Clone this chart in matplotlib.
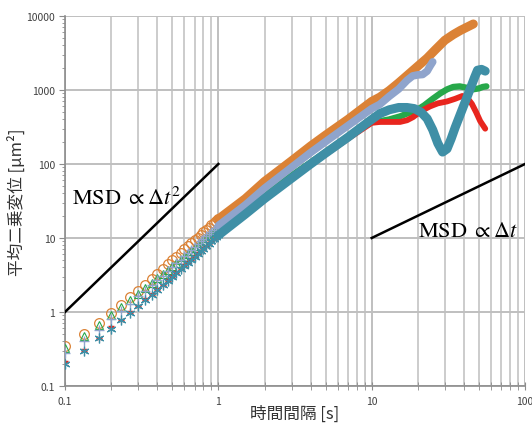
import matplotlib
matplotlib.use("Agg")
import matplotlib.pyplot as plt
from matplotlib.ticker import FixedLocator, NullFormatter

plt.rcParams['font.family'] = ['Noto Sans CJK JP', 'DejaVu Sans']
plt.rcParams['mathtext.fontset'] = 'stix'

# time lags for the separated markers (1/30 s steps)
t_low = [0.1, 0.133, 0.167, 0.2, 0.233, 0.267, 0.3, 0.333, 0.367, 0.4,
         0.433, 0.467, 0.5, 0.533, 0.567, 0.6, 0.633, 0.667, 0.7, 0.733,
         0.767, 0.8, 0.833, 0.867, 0.9, 0.933, 0.967, 1.0]

orange_low = [0.35, 0.51, 0.71, 0.96, 1.24, 1.58, 1.95, 2.35, 2.8, 3.3,
              3.8, 4.4, 5.0, 5.6, 6.3, 7.0, 7.7, 8.5, 9.3, 10.1,
              11.0, 11.9, 12.8, 13.8, 14.8, 15.8, 16.9, 18.0]
green_low = [0.33, 0.48, 0.67, 0.90, 1.15, 1.45, 1.76, 2.1, 2.45, 2.85,
             3.25, 3.7, 4.15, 4.6, 5.1, 5.6, 6.15, 6.7, 7.3, 7.9,
             8.5, 9.2, 9.9, 10.6, 11.4, 12.2, 13.1, 14.0]
lav_low = [0.28, 0.41, 0.57, 0.80, 1.04, 1.28, 1.62, 1.95, 2.3, 2.7,
           3.1, 3.6, 4.1, 4.6, 5.1, 5.7, 6.3, 6.9, 7.6, 8.3,
           9.0, 9.7, 10.5, 11.3, 12.1, 12.9, 13.8, 14.7]
red_low = [0.21, 0.31, 0.45, 0.62, 0.79, 0.99, 1.22, 1.5, 1.75, 2.05,
           2.35, 2.7, 3.05, 3.45, 3.85, 4.3, 4.75, 5.2, 5.7, 6.2,
           6.7, 7.3, 7.9, 8.5, 9.1, 9.7, 10.4, 11.0]
teal_low = [0.20, 0.30, 0.44, 0.59, 0.77, 0.97, 1.20, 1.45, 1.72, 2.0,
            2.3, 2.65, 3.0, 3.4, 3.8, 4.2, 4.65, 5.1, 5.6, 6.1,
            6.6, 7.2, 7.8, 8.4, 9.0, 9.6, 10.2, 10.9]

# dense part (markers merge into a thick band)
orange_t = [1, 1.5, 2, 3, 4, 5, 7, 10, 11.3, 13, 15, 17.5, 20, 23, 26, 30, 34, 38, 42, 46]
orange_v = [18, 34, 58, 110, 175, 245, 400, 700, 800, 980, 1250, 1650, 2100, 2700, 3500, 4700, 5600, 6400, 7100, 7800]

lav_t = [1, 1.5, 2, 3, 4, 5, 7, 10, 11.3, 13, 15, 17, 18.5, 20, 21.5, 23, 24, 25]
lav_v = [14.7, 28, 47, 90, 143, 200, 330, 560, 640, 820, 1030, 1350, 1550, 1600, 1620, 1800, 2100, 2400]

green_t = [1, 1.5, 2, 3, 4, 5, 7, 10, 11.3, 13, 15.3, 17, 19.8, 22, 25, 28, 31, 34, 37.5, 41, 45.8, 50, 53, 56]
green_v = [14, 25, 38, 70, 105, 145, 235, 370, 380, 400, 440, 480, 540, 620, 760, 900, 1020, 1100, 1120, 1080, 1020, 1050, 1100, 1120]

red_t = [1, 1.5, 2, 3, 4, 5, 7, 10, 11.3, 13, 15.3, 17, 18.6, 21, 24, 27, 31, 35, 39, 42, 45, 48, 51, 55]
red_v = [11, 21, 34, 63, 98, 135, 220, 360, 370, 370, 370, 390, 430, 520, 600, 660, 700, 760, 830, 780, 650, 500, 380, 300]

teal_t = [1, 1.5, 2, 3, 4, 5, 7, 10, 11.3, 13, 15, 17, 19, 21, 23, 25, 27, 29, 31, 33, 35, 38, 41, 44, 47, 49, 52, 55]
teal_v = [10.9, 21, 34, 64, 100, 140, 230, 400, 480, 540, 580, 580, 560, 500, 410, 290, 190, 145, 160, 220, 310, 480, 720, 1050, 1500, 1850, 1900, 1800]

c_orange = '#DB8236'
c_green = '#27A84A'
c_lav = '#8FA4CC'
c_red = '#E8261E'
c_teal = '#3F8FA6'

fig = plt.figure(figsize=(5.32, 4.27), dpi=100)
ax = fig.add_axes([0.1222, 0.0937, 0.8647, 0.8665])
ax.set_xscale('log')
ax.set_yscale('log')
ax.set_xlim(0.1, 100)
ax.set_ylim(0.1, 10000)

# reference slopes
ax.plot([0.1, 1], [1, 100], color='black', lw=1.8, zorder=3)
ax.plot([10, 100], [10, 100], color='black', lw=1.8, zorder=3)

# dense bands
kw = dict(solid_capstyle='round', solid_joinstyle='round')
ax.plot(orange_t, orange_v, color=c_orange, lw=6.5, zorder=4, **kw)
ax.plot(green_t, green_v, color=c_green, lw=4.5, zorder=5, **kw)
ax.plot(red_t, red_v, color=c_red, lw=4.2, zorder=6, **kw)
ax.plot(lav_t, lav_v, color=c_lav, lw=5.5, zorder=7, **kw)
ax.plot(teal_t, teal_v, color=c_teal, lw=6.5, zorder=8, **kw)

# individual markers at short lags
ax.plot(t_low, orange_low, ls='none', marker='o', ms=7, mfc='none', mec=c_orange, mew=0.9, zorder=4)
ax.plot(t_low, green_low, ls='none', marker='^', ms=6, mfc='none', mec=c_green, mew=0.8, zorder=5)
ax.plot(t_low, red_low, ls='none', marker='_', ms=5, mec=c_red, mew=2.5, zorder=6)
ax.plot(t_low, lav_low, ls='none', marker='+', ms=7, mec=c_lav, mew=1.0, zorder=7)
ax.plot(t_low, teal_low, ls='none', marker=(6, 2, 0), ms=7, mec=c_teal, mew=0.9, zorder=8)

# grid / axes styling
grid_c = '#BFBFBF'
ax.grid(True, which='major', axis='both', color=grid_c, lw=1.4, zorder=0)
ax.grid(True, which='minor', axis='x', color=grid_c, lw=1.1, zorder=0)
ax.set_axisbelow(True)
for s in ['top', 'right']:
    ax.spines[s].set_visible(False)
for s in ['left', 'bottom']:
    ax.spines[s].set_color('#8C8C8C')
    ax.spines[s].set_linewidth(1.2)

ax.xaxis.set_major_locator(FixedLocator([0.1, 1, 10, 100]))
ax.set_xticklabels(['0.1', '1', '10', '100'])
ax.yaxis.set_major_locator(FixedLocator([0.1, 1, 10, 100, 1000, 10000]))
ax.set_yticklabels(['0.1', '1', '10', '100', '1000', '10000'])
ax.xaxis.set_minor_formatter(NullFormatter())
ax.yaxis.set_minor_formatter(NullFormatter())
ax.tick_params(axis='x', which='both', direction='inout', length=6, color='#8C8C8C',
               labelsize=7.5, labelcolor='#404040', pad=4)
ax.tick_params(axis='y', which='major', direction='out', length=4, color='#8C8C8C',
               labelsize=7.5, labelcolor='#404040', pad=3)
ax.tick_params(axis='y', which='minor', direction='out', length=2.5, color='#8C8C8C')

ax.set_xlabel('時間間隔 [s]', fontsize=12, color='#333333')
ax.xaxis.set_label_coords(0.5, -0.05)
ax.set_ylabel('平均二乗変位 [μm²]', fontsize=12, color='#333333')
ax.yaxis.set_label_coords(-0.085, 0.5)

ax.text(0.111, 36, r'$\mathrm{MSD}\ \propto\Delta t^{2}$', fontsize=16, ha='left', va='center', zorder=9)
ax.text(20.1, 13.2, r'$\mathrm{MSD}\ \propto\Delta t$', fontsize=16, ha='left', va='center', zorder=9)

fig.savefig('out.png', dpi=100)
